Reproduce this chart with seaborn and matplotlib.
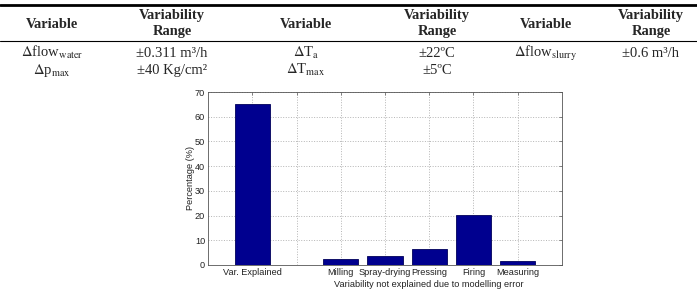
import numpy as np
import pandas as pd
import matplotlib
matplotlib.use("Agg")
import matplotlib.pyplot as plt
from matplotlib.lines import Line2D
import seaborn as sns

# Table contents
header = ['Variable', 'Variability\nRange'] * 3
table_rows = [
    [r'$\Delta$flow$_{\mathrm{water}}$', '±0.311 m³/h', r'$\Delta$T$_{\mathrm{a}}$', '±22ºC',
     r'$\Delta$flow$_{\mathrm{slurry}}$', '±0.6 m³/h'],
    [r'$\Delta$p$_{\mathrm{max}}$', '±40 Kg/cm²', r'$\Delta$T$_{\mathrm{max}}$', '±5ºC', '', ''],
]

# Bar chart data
positions = [1, 3, 4, 5, 6, 7]
percentages = [65.2, 2.4, 3.6, 6.4, 20.4, 1.8]
tick_positions = [1, 2, 3, 4, 5, 6, 7]
tick_labels = ['Var. Explained', '', 'Milling', 'Spray-drying', 'Pressing', 'Firing', 'Measuring']

sns.set_style('white')
plt.rcParams['mathtext.fontset'] = 'stix'

W, H = 697, 289
fig = plt.figure(figsize=(W / 100, H / 100), dpi=100)

def fx(px):
    return px / W

def fy(py):
    return 1 - py / H

# ---- table ----
fig.add_artist(Line2D([0, 1], [fy(4.5), fy(4.5)], transform=fig.transFigure, color='black', lw=2.0))
fig.add_artist(Line2D([0, 1], [fy(40.8), fy(40.8)], transform=fig.transFigure, color='black', lw=0.8))

col_x = [52, 172, 306, 437, 546, 651]
serif = 'Liberation Serif'
for x, h in zip(col_x, header):
    if '\n' in h:
        top, bottom = h.split('\n')
        fig.text(fx(x), fy(15.5), top, ha='center', va='center', fontsize=10.4,
                 fontweight='bold', family=serif)
        fig.text(fx(x), fy(32), bottom, ha='center', va='center', fontsize=10.4,
                 fontweight='bold', family=serif)
    else:
        fig.text(fx(x), fy(24), h, ha='center', va='center', fontsize=10.4,
                 fontweight='bold', family=serif)

row_baselines = [57, 74]
for yb, row in zip(row_baselines, table_rows):
    for x, cell in zip(col_x, row):
        if cell:
            fig.text(fx(x), fy(yb), cell, ha='center', va='baseline', fontsize=10.5, family=serif)

# ---- bar chart ----
ax = fig.add_axes([fx(208), fy(265), fx(562) - fx(208), (265 - 92) / H])
df = pd.DataFrame({'pos': positions, 'pct': percentages})
sns.barplot(data=df, x='pos', y='pct', native_scale=True, color='#00008f',
            saturation=1, edgecolor='#00005a', linewidth=0.6, width=0.8, ax=ax)

ax.set_xlim(0, 8)
ax.set_ylim(0, 70)
ax.set_yticks(np.arange(0, 71, 10))
ax.set_xticks(tick_positions)
ax.set_xticklabels(tick_labels)
ax.set_axisbelow(True)
ax.grid(True, linestyle=':', color='#b4b4b4', linewidth=0.7)

sans = 'Liberation Sans'
for lbl in ax.get_xticklabels() + ax.get_yticklabels():
    lbl.set_family(sans)
    lbl.set_fontsize(6.6)
    lbl.set_color('#222222')
ax.tick_params(direction='in', length=2.5, width=0.5, top=True, right=True, pad=2,
               color='#555555')
for s in ax.spines.values():
    s.set_color('#555555')
    s.set_linewidth(0.6)

ax.set_ylabel('Percentage (%)', fontsize=6.6, family=sans, color='#222222')
ax.yaxis.set_label_coords(-0.038, 0.5)
ax.set_xlabel('Variability not explained due to modelling error', fontsize=6.6,
              family=sans, color='#222222')
ax.xaxis.set_label_coords(5 / 8, -0.085)

fig.savefig('out.png', dpi=100)
